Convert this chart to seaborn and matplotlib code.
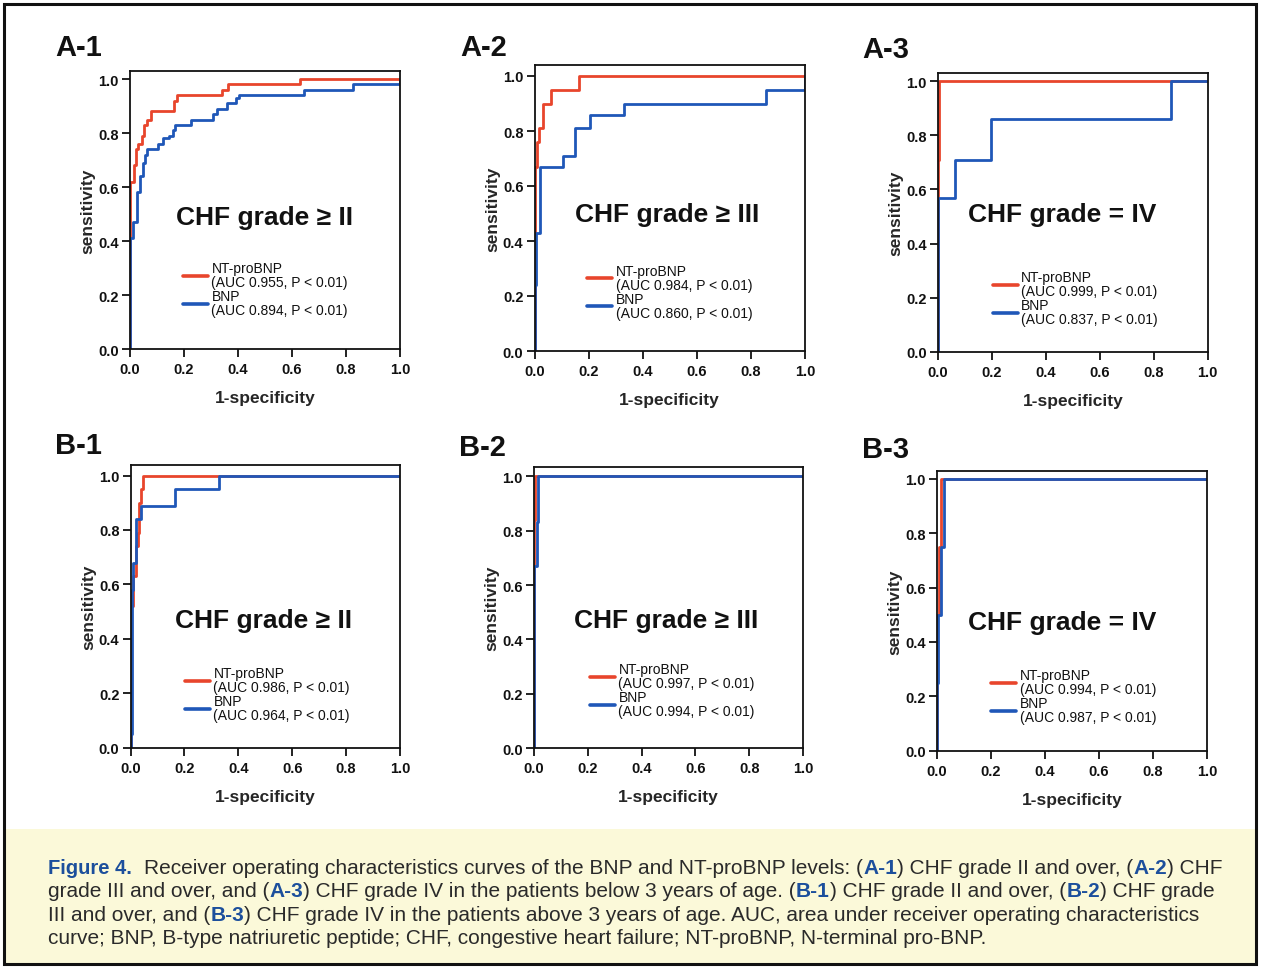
import matplotlib
matplotlib.use("Agg")
import pandas as pd
import seaborn as sns
import matplotlib.pyplot as plt
from matplotlib.patches import Rectangle

sns.set_theme(style="white")
plt.rcParams['font.family'] = ['Liberation Sans', 'DejaVu Sans']

RED = "#e8452c"
BLUE = "#1f57b8"
CAP_BLUE = "#1c4f9c"

# ROC corner points (1-specificity, sensitivity)
a1_nt_fpr = [0, 0, 0.015, 0.022, 0.031, 0.043, 0.052, 0.064, 0.077, 0.163, 0.175, 0.34, 0.362, 0.63, 1.0]
a1_nt_tpr = [0, 0.62, 0.68, 0.74, 0.76, 0.79, 0.83, 0.85, 0.88, 0.92, 0.94, 0.96, 0.98, 1.0, 1.0]
a1_bnp_fpr = [0, 0, 0.012, 0.025, 0.037, 0.049, 0.056, 0.064, 0.103, 0.121, 0.144, 0.158, 0.167,
              0.226, 0.309, 0.321, 0.358, 0.391, 0.404, 0.646, 0.827, 0.97, 1.0]
a1_bnp_tpr = [0, 0.41, 0.47, 0.58, 0.64, 0.69, 0.72, 0.74, 0.76, 0.78, 0.79, 0.81, 0.83,
              0.85, 0.87, 0.89, 0.91, 0.93, 0.94, 0.96, 0.98, 0.98, 1.0]

a2_nt_fpr = [0, 0, 0.011, 0.018, 0.033, 0.06, 0.166, 1.0]
a2_nt_tpr = [0, 0.67, 0.76, 0.81, 0.90, 0.95, 1.0, 1.0]
a2_bnp_fpr = [0, 0, 0.005, 0.021, 0.107, 0.15, 0.206, 0.331, 0.856, 0.973, 1.0]
a2_bnp_tpr = [0, 0.24, 0.43, 0.67, 0.71, 0.81, 0.86, 0.90, 0.95, 0.95, 1.0]

a3_nt_fpr = [0, 0, 0.005, 1.0]
a3_nt_tpr = [0, 0.71, 1.0, 1.0]
a3_bnp_fpr = [0, 0, 0.064, 0.198, 0.864, 1.0]
a3_bnp_tpr = [0, 0.57, 0.71, 0.86, 1.0, 1.0]

b1_nt_fpr = [0, 0, 0.01, 0.019, 0.026, 0.032, 0.038, 0.045, 1.0]
b1_nt_tpr = [0, 0.52, 0.63, 0.74, 0.79, 0.90, 0.95, 1.0, 1.0]
b1_bnp_fpr = [0, 0, 0.004, 0.01, 0.019, 0.022, 0.038, 0.165, 0.329, 1.0]
b1_bnp_tpr = [0, 0.05, 0.58, 0.68, 0.74, 0.84, 0.89, 0.95, 1.0, 1.0]

b2_nt_fpr = [0, 0, 0.004, 1.0]
b2_nt_tpr = [0, 0.84, 1.0, 1.0]
b2_bnp_fpr = [0, 0, 0.01, 0.016, 1.0]
b2_bnp_tpr = [0, 0.67, 0.83, 1.0, 1.0]

b3_nt_fpr = [0, 0, 0.009, 0.016, 1.0]
b3_nt_tpr = [0, 0.50, 0.75, 1.0, 1.0]
b3_bnp_fpr = [0, 0, 0.006, 0.015, 0.027, 1.0]
b3_bnp_tpr = [0, 0.25, 0.50, 0.75, 1.0, 1.0]

tags = ["A-1", "A-2", "A-3", "B-1", "B-2", "B-3"]
titles = ["CHF grade \u2265 II", "CHF grade \u2265 III", "CHF grade = IV"] * 2
auc_nt = ["0.955", "0.984", "0.999", "0.986", "0.997", "0.994"]
auc_bnp = ["0.894", "0.860", "0.837", "0.964", "0.994", "0.987"]
curves = [
    (a1_nt_fpr, a1_nt_tpr, a1_bnp_fpr, a1_bnp_tpr),
    (a2_nt_fpr, a2_nt_tpr, a2_bnp_fpr, a2_bnp_tpr),
    (a3_nt_fpr, a3_nt_tpr, a3_bnp_fpr, a3_bnp_tpr),
    (b1_nt_fpr, b1_nt_tpr, b1_bnp_fpr, b1_bnp_tpr),
    (b2_nt_fpr, b2_nt_tpr, b2_bnp_fpr, b2_bnp_tpr),
    (b3_nt_fpr, b3_nt_tpr, b3_bnp_fpr, b3_bnp_tpr),
]

# layout (pixels): axes box, top of y range, title centre, legend anchor, tag position
W, H = 1266, 970
boxes = [(130, 72, 400, 350), (534.5, 66, 805, 352), (938, 74, 1207.5, 353),
         (130.5, 466, 400, 748.5), (534, 468, 803, 749.3), (936.7, 472, 1207, 751.7)]
ytops = [1.03, 1.04, 1.03, 1.039, 1.034, 1.029]
title_xy = [(0.5, 0.49), (0.49, 0.497), (0.46, 0.51), (0.494, 0.47), (0.49, 0.47), (0.466, 0.473)]
leg_xy = [(0.196, 0.315), (0.195, 0.305), (0.203, 0.294), (0.202, 0.287), (0.208, 0.307), (0.201, 0.295)]
tag_xy = [(55, 48), (460, 48), (862, 50), (55, 446), (459, 448), (862, 450)]

fig = plt.figure(figsize=(12.66, 9.70), dpi=100)
fig.patch.set_facecolor("white")

# background overlay: caption box and outer frame
ov = fig.add_axes([0, 0, 1, 1])
ov.set_xlim(0, W)
ov.set_ylim(H, 0)
ov.axis("off")
ov.add_patch(Rectangle((4, 830), 1252, 135, facecolor="#fbf9d9", edgecolor="none"))
ov.add_patch(Rectangle((4, 5), 1252, 960, facecolor="none", edgecolor="#111111", lw=2.2))

for i in range(6):
    l, t, r, b = boxes[i]
    ax = fig.add_axes([l / W, (H - b) / H, (r - l) / W, (b - t) / H])
    nt_x, nt_y, bnp_x, bnp_y = curves[i]
    sns.lineplot(data=pd.DataFrame({"fpr": nt_x, "tpr": nt_y}), x="fpr", y="tpr",
                 estimator=None, sort=False, drawstyle="steps-post", color=RED, lw=2.0,
                 label=f"NT-proBNP\n(AUC {auc_nt[i]}, P < 0.01)", ax=ax)
    sns.lineplot(data=pd.DataFrame({"fpr": bnp_x, "tpr": bnp_y}), x="fpr", y="tpr",
                 estimator=None, sort=False, drawstyle="steps-post", color=BLUE, lw=2.0,
                 label=f"BNP\n(AUC {auc_bnp[i]}, P < 0.01)", ax=ax)
    ax.set_xlim(0, 1.0)
    ax.set_ylim(0, ytops[i])
    ax.set_xticks([0, 0.2, 0.4, 0.6, 0.8, 1.0])
    ax.set_yticks([0, 0.2, 0.4, 0.6, 0.8, 1.0])
    ax.set_xticklabels([f"{v:.1f}" for v in ax.get_xticks()], fontweight="bold")
    ax.set_yticklabels([f"{v:.1f}" for v in ax.get_yticks()], fontweight="bold")
    ax.tick_params(direction="out", length=6, width=1.3, labelsize=10.5, pad=2,
                   colors="#111111", bottom=True, left=True)
    ax.tick_params(axis="x", pad=3.5)
    for sp in ax.spines.values():
        sp.set_color("#111111")
        sp.set_linewidth(1.3)
    ax.set_xlabel("1-specificity", fontsize=12.5, fontweight="bold", labelpad=10)
    ax.set_ylabel("sensitivity", fontsize=12.5, fontweight="bold", labelpad=2)
    ax.text(title_xy[i][0], title_xy[i][1], titles[i], ha="center", va="center",
            fontsize=19, fontweight="bold", color="#111111")
    leg = ax.legend(loc="upper left", bbox_to_anchor=leg_xy[i], frameon=False, fontsize=10,
                    handlelength=1.8, handletextpad=0.25, labelspacing=0.0,
                    borderpad=0, borderaxespad=0)
    for txt in leg.get_texts():
        txt.set_linespacing(1.0)
        txt.set_color("#111111")
    for ln in leg.get_lines():
        ln.set_linewidth(2.6)
    fig.text(tag_xy[i][0] / W, 1 - tag_xy[i][1] / H, tags[i], ha="left", va="center",
             fontsize=21, fontweight="bold", color="#111111")

# caption, built from coloured pieces
cap_lines = [
    [("Receiver operating characteristics curves of the BNP and NT-proBNP levels: (", 0),
     ("A-1", 1), (") CHF grade II and over, (", 0), ("A-2", 1), (") CHF", 0)],
    [("grade III and over, and (", 0), ("A-3", 1),
     (") CHF grade IV in the patients below 3 years of age. (", 0), ("B-1", 1),
     (") CHF grade II and over, (", 0), ("B-2", 1), (") CHF grade", 0)],
    [("III and over, and (", 0), ("B-3", 1),
     (") CHF grade IV in the patients above 3 years of age. AUC, area under receiver operating characteristics", 0)],
    [("curve; BNP, B-type natriuretic peptide; CHF, congestive heart failure; NT-proBNP, N-terminal pro-BNP.", 0)],
]
baselines = [874, 897.5, 920.8, 944]
ov.text(48, baselines[0], "Figure 4.", ha="left", va="baseline", fontsize=14.5,
        fontweight="bold", color=CAP_BLUE)
for k, pieces in enumerate(cap_lines):
    x0 = 144 if k == 0 else 48
    prev = None
    for s, hl in pieces:
        kw = dict(ha="left", va="baseline", fontsize=15,
                  color=CAP_BLUE if hl else "#2a2a2a", fontweight="bold" if hl else "normal")
        if prev is None:
            prev = ov.text(x0, baselines[k], s, **kw)
        else:
            prev = ov.annotate(s, xy=(1, baselines[k]), xycoords=(prev, "data"), **kw)

fig.savefig("out.png", dpi=100)
